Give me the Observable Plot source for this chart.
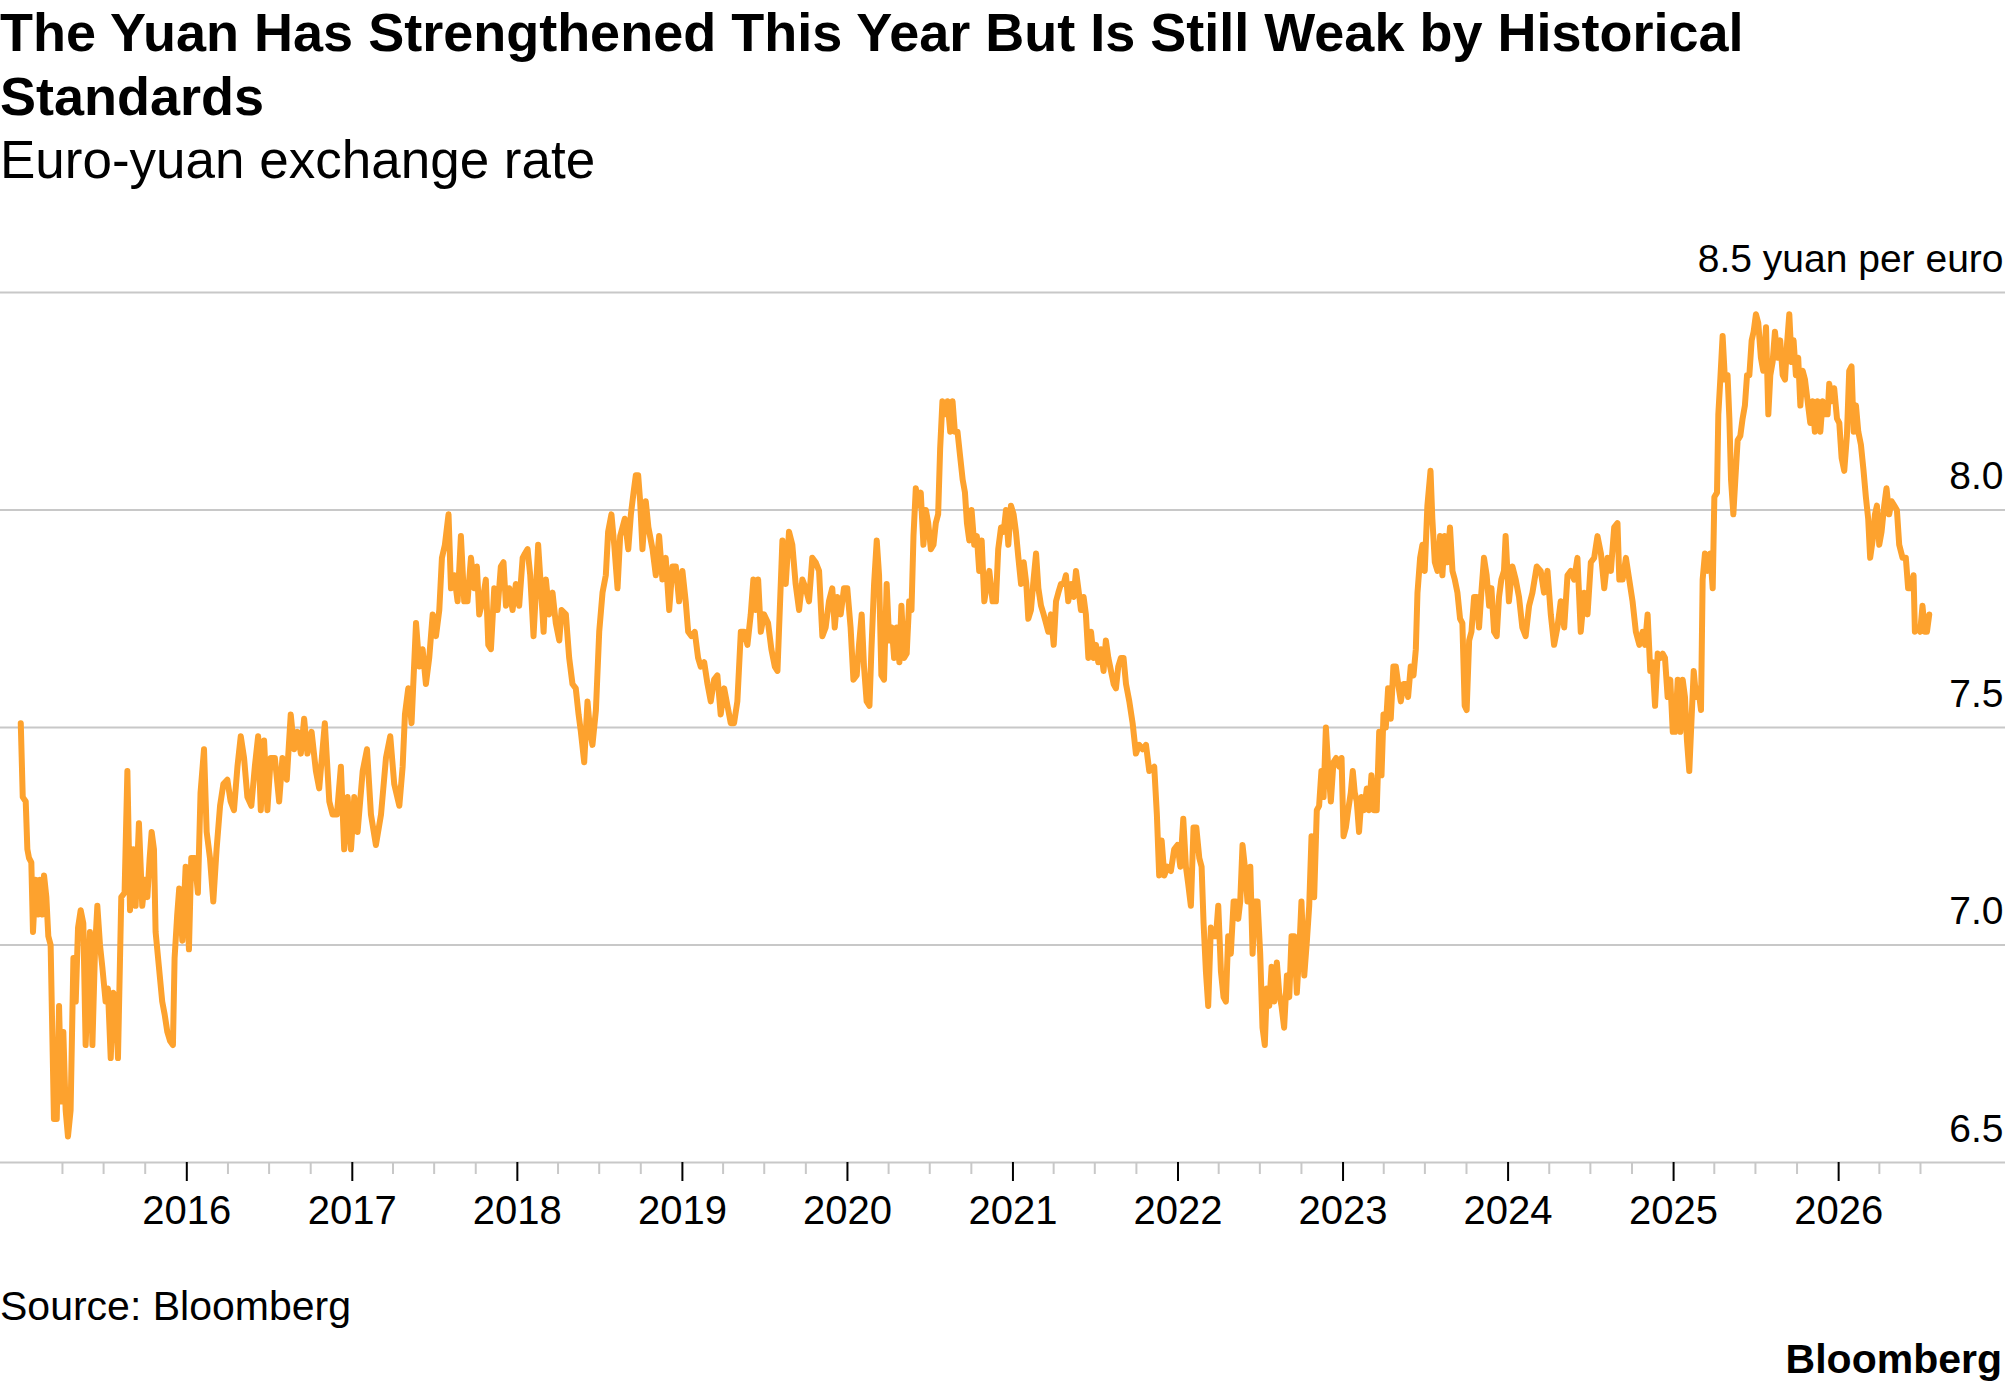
<!DOCTYPE html>
<html>
<head>
<meta charset="utf-8">
<script src="https://cdn.jsdelivr.net/npm/d3@7"></script>
<script src="https://cdn.jsdelivr.net/npm/@observablehq/plot@0.6"></script>
<style>
  html, body { margin: 0; padding: 0; background: #fff; }
  body { width: 2005px; height: 1389px; position: relative; overflow: hidden;
         font-family: "Liberation Sans", Arial, Helvetica, sans-serif; color: #000; }
  #head { position: absolute; left: 0; top: 0px; width: 1880px; }
  #title { font-weight: bold; font-size: 54px; line-height: 64px; margin: 0; }
  #subtitle { font-size: 53px; line-height: 64px; margin: 0; }
  #chart { position: absolute; left: 0; top: 222px; }
  #source { position: absolute; left: 0; top: 1282px; font-size: 41px; line-height: 48px; }
  #logo { position: absolute; right: 3px; top: 1336px; font-size: 41px; line-height: 46px; font-weight: bold; }
</style>
</head>
<body>
<div id="head">
  <div id="title">The Yuan Has Strengthened This Year But Is Still Weak by Historical Standards</div>
  <div id="subtitle">Euro-yuan exchange rate</div>
</div>
<div id="chart"></div>
<div id="source">Source: Bloomberg</div>
<div id="logo">Bloomberg</div>
<script>
const dates = [
2014.994,2015.006,2015.024,2015.034,2015.044,2015.058,2015.068,2015.084,2015.099,2015.111,2015.125,2015.135,2015.149,2015.161,2015.175,2015.195,2015.212,2015.226,2015.240,2015.252,2015.266,2015.280,2015.296,2015.313,2015.327,2015.341,2015.357,2015.373,2015.387,2015.401,2015.413,2015.428,2015.444,2015.458,2015.474,2015.488,2015.508,2015.522,2015.539,2015.555,2015.569,2015.583,2015.603,2015.623,2015.640,2015.656,2015.676,2015.690,2015.710,2015.730,2015.746,2015.761,2015.775,2015.787,2015.801,2015.811,2015.831,2015.851,2015.866,2015.882,2015.898,2015.916,2015.926,2015.942,2015.954,2015.973,2015.993,
2016.013,2016.027,2016.047,2016.067,2016.083,2016.104,2016.120,2016.140,2016.160,2016.180,2016.201,2016.221,2016.245,2016.265,2016.285,2016.306,2016.326,2016.346,2016.366,2016.390,2016.411,2016.431,2016.447,2016.467,2016.487,2016.507,2016.532,2016.558,2016.578,2016.604,2016.628,2016.649,2016.669,2016.689,2016.709,2016.729,2016.754,2016.780,2016.800,2016.834,2016.861,2016.881,2016.907,2016.931,2016.951,2016.972,2016.992,2017.012,
2017.032,2017.063,2017.089,2017.113,2017.143,2017.174,2017.204,2017.230,2017.254,2017.285,2017.305,2017.319,2017.339,2017.359,2017.386,2017.406,2017.426,2017.446,2017.466,2017.487,2017.507,2017.527,2017.543,2017.561,2017.583,2017.598,2017.618,2017.638,2017.658,2017.678,2017.698,2017.719,2017.739,2017.755,2017.769,2017.789,2017.809,2017.824,2017.840,2017.860,2017.880,2017.900,2017.916,2017.931,2017.951,2017.971,2017.991,
2018.011,2018.032,2018.046,2018.062,2018.078,2018.098,2018.112,2018.126,2018.143,2018.159,2018.173,2018.193,2018.213,2018.233,2018.254,2018.268,2018.294,2018.314,2018.334,2018.354,2018.371,2018.385,2018.405,2018.425,2018.441,2018.455,2018.476,2018.496,2018.516,2018.536,2018.550,2018.570,2018.587,2018.607,2018.623,2018.637,2018.651,2018.672,2018.688,2018.704,2018.718,2018.732,2018.744,2018.758,2018.778,2018.794,2018.819,2018.839,2018.859,2018.879,2018.899,2018.920,2018.940,2018.960,2018.980,
2019.000,2019.020,2019.035,2019.055,2019.075,2019.095,2019.111,2019.132,2019.152,2019.172,2019.192,2019.212,2019.232,2019.253,2019.273,2019.293,2019.313,2019.333,2019.354,2019.374,2019.394,2019.414,2019.430,2019.444,2019.459,2019.475,2019.495,2019.519,2019.539,2019.560,2019.576,2019.606,2019.626,2019.646,2019.666,2019.686,2019.707,2019.727,2019.747,2019.767,2019.787,2019.807,2019.828,2019.848,2019.868,2019.888,2019.908,2019.923,2019.939,2019.959,2019.979,2019.999,
2020.019,2020.036,2020.056,2020.070,2020.086,2020.100,2020.116,2020.133,2020.145,2020.161,2020.177,2020.191,2020.205,2020.221,2020.237,2020.252,2020.268,2020.282,2020.298,2020.314,2020.326,2020.342,2020.358,2020.373,2020.387,2020.399,2020.413,2020.427,2020.443,2020.459,2020.474,2020.488,2020.504,2020.520,2020.534,2020.548,2020.560,2020.574,2020.589,2020.605,2020.621,2020.635,2020.649,2020.665,2020.679,2020.696,2020.710,2020.722,2020.736,2020.750,2020.766,2020.782,2020.796,2020.811,2020.827,2020.843,2020.857,2020.877,2020.897,2020.911,2020.928,2020.944,2020.958,2020.972,2020.988,
2021.004,2021.018,2021.033,2021.049,2021.065,2021.081,2021.093,2021.109,2021.125,2021.140,2021.154,2021.170,2021.186,2021.200,2021.214,2021.230,2021.247,2021.261,2021.275,2021.291,2021.307,2021.321,2021.335,2021.352,2021.368,2021.382,2021.396,2021.412,2021.428,2021.442,2021.457,2021.473,2021.489,2021.503,2021.517,2021.533,2021.549,2021.563,2021.578,2021.594,2021.610,2021.624,2021.638,2021.654,2021.670,2021.685,2021.705,2021.725,2021.745,2021.765,2021.785,2021.806,2021.826,2021.856,2021.872,2021.886,2021.901,2021.917,2021.937,2021.957,2021.977,2021.997,
2022.014,2022.032,2022.048,2022.062,2022.078,2022.094,2022.111,2022.129,2022.143,2022.155,2022.169,2022.183,2022.199,2022.215,2022.230,2022.244,2022.260,2022.276,2022.290,2022.304,2022.320,2022.337,2022.351,2022.365,2022.377,2022.391,2022.405,2022.421,2022.438,2022.452,2022.466,2022.482,2022.498,2022.512,2022.526,2022.538,2022.553,2022.567,2022.583,2022.599,2022.613,2022.627,2022.643,2022.660,2022.674,2022.688,2022.704,2022.720,2022.734,2022.748,2022.765,2022.781,2022.795,2022.809,2022.825,2022.841,2022.855,2022.869,2022.882,2022.896,2022.910,2022.926,2022.942,2022.958,2022.976,2022.991,
2023.003,2023.017,2023.031,2023.047,2023.059,2023.071,2023.083,2023.097,2023.112,2023.128,2023.144,2023.158,2023.172,2023.188,2023.204,2023.219,2023.233,2023.245,2023.259,2023.273,2023.289,2023.305,2023.320,2023.334,2023.350,2023.366,2023.380,2023.394,2023.410,2023.427,2023.441,2023.451,2023.467,2023.481,2023.495,2023.511,2023.530,2023.541,2023.556,2023.572,2023.588,2023.602,2023.616,2023.632,2023.648,2023.663,2023.677,2023.693,2023.709,2023.723,2023.737,2023.749,2023.764,2023.778,2023.794,2023.810,2023.824,2023.838,2023.854,2023.870,2023.885,2023.899,2023.915,2023.931,2023.945,2023.959,2023.975,2023.985,
2024.005,2024.026,2024.046,2024.066,2024.086,2024.106,2024.127,2024.147,2024.173,2024.197,2024.217,2024.238,2024.258,2024.278,2024.298,2024.318,2024.339,2024.359,2024.379,2024.399,2024.419,2024.439,2024.460,2024.480,2024.500,2024.520,2024.540,2024.561,2024.581,2024.601,2024.621,2024.641,2024.661,2024.672,2024.692,2024.712,2024.732,2024.752,2024.772,2024.793,2024.813,2024.827,2024.843,2024.859,2024.873,2024.888,2024.904,2024.920,2024.934,2024.948,2024.964,2024.980,2024.995,
2025.009,2025.025,2025.041,2025.055,2025.069,2025.081,2025.095,2025.110,2025.122,2025.136,2025.150,2025.166,2025.176,2025.190,2025.206,2025.222,2025.237,2025.247,2025.263,2025.271,2025.283,2025.297,2025.311,2025.327,2025.338,2025.348,2025.362,2025.374,2025.388,2025.404,2025.418,2025.432,2025.445,2025.459,2025.473,2025.485,2025.499,2025.513,2025.529,2025.543,2025.560,2025.574,2025.586,2025.600,2025.614,2025.630,2025.646,2025.661,2025.675,2025.687,2025.701,2025.715,2025.727,2025.741,2025.755,2025.768,2025.782,2025.796,2025.812,2025.828,2025.842,2025.856,2025.872,2025.889,2025.903,2025.917,2025.933,2025.943,2025.957,2025.973,2025.990,
2026.004,2026.018,2026.034,2026.050,2026.064,2026.078,2026.091,2026.105,2026.119,2026.135,2026.151,2026.165,2026.179,2026.191,2026.206,2026.220,2026.232,2026.246,2026.260,2026.276,2026.290,2026.306,2026.321,2026.337,2026.353,2026.367,2026.387,2026.407,2026.421,2026.437,2026.454,2026.462,2026.478,2026.494,2026.508,2026.522,2026.535,2026.549
];
// Yuan per euro at each date
const rate = [
7.51,7.34,7.33,7.22,7.20,7.19,7.03,7.15,7.07,7.15,7.07,7.16,7.11,7.02,7.00,6.60,6.60,6.86,6.64,6.80,6.62,6.56,6.62,6.97,6.87,7.04,7.08,7.05,6.77,6.91,7.03,6.77,6.99,7.09,7.00,6.95,6.87,6.90,6.74,6.89,6.88,6.74,7.11,7.12,7.40,7.08,7.22,7.09,7.28,7.09,7.15,7.11,7.20,7.26,7.22,7.03,6.95,6.87,6.84,6.80,6.78,6.77,6.97,7.07,7.13,7.01,7.18,
6.99,7.20,7.20,7.12,7.35,7.45,7.26,7.20,7.10,7.22,7.32,7.37,7.38,7.33,7.31,7.41,7.48,7.43,7.34,7.32,7.41,7.48,7.31,7.47,7.31,7.43,7.43,7.33,7.43,7.38,7.53,7.45,7.49,7.44,7.52,7.44,7.49,7.40,7.36,7.51,7.33,7.30,7.30,7.41,7.22,7.34,7.22,7.34,
7.26,7.40,7.45,7.30,7.23,7.30,7.43,7.48,7.37,7.32,7.41,7.53,7.59,7.51,7.74,7.64,7.68,7.60,7.66,7.76,7.71,7.77,7.89,7.92,7.99,7.82,7.85,7.79,7.94,7.79,7.79,7.89,7.82,7.87,7.76,7.79,7.84,7.69,7.68,7.82,7.77,7.87,7.88,7.78,7.82,7.77,7.83,
7.78,7.89,7.90,7.91,7.85,7.71,7.81,7.92,7.82,7.72,7.84,7.76,7.81,7.74,7.70,7.77,7.76,7.66,7.60,7.59,7.53,7.49,7.42,7.56,7.49,7.46,7.54,7.72,7.81,7.85,7.95,7.99,7.92,7.82,7.94,7.96,7.98,7.91,7.99,8.04,8.08,8.08,8.02,7.91,8.02,7.96,7.91,7.85,7.94,7.84,7.89,7.77,7.87,7.87,7.79,
7.86,7.79,7.72,7.71,7.72,7.66,7.64,7.65,7.60,7.56,7.61,7.62,7.53,7.59,7.55,7.51,7.51,7.56,7.72,7.72,7.69,7.76,7.84,7.77,7.84,7.72,7.76,7.74,7.68,7.64,7.63,7.93,7.83,7.95,7.92,7.83,7.77,7.84,7.82,7.79,7.89,7.88,7.86,7.71,7.73,7.79,7.82,7.73,7.80,7.76,7.82,7.82,
7.73,7.61,7.62,7.69,7.76,7.64,7.56,7.55,7.68,7.83,7.93,7.85,7.62,7.61,7.83,7.70,7.73,7.66,7.73,7.65,7.78,7.66,7.67,7.79,7.77,7.94,8.05,8.01,8.04,7.92,8.00,7.97,7.91,7.92,7.97,7.99,8.14,8.25,8.22,8.25,8.18,8.25,8.18,8.18,8.13,8.07,8.04,7.97,7.93,8.00,7.92,7.94,7.86,7.93,7.79,7.83,7.86,7.79,7.79,7.91,7.96,7.95,8.00,7.92,8.01,
7.99,7.95,7.89,7.83,7.88,7.83,7.75,7.77,7.84,7.90,7.82,7.78,7.76,7.74,7.72,7.76,7.69,7.79,7.81,7.83,7.83,7.85,7.79,7.83,7.80,7.86,7.82,7.77,7.80,7.76,7.66,7.72,7.66,7.69,7.65,7.68,7.63,7.70,7.66,7.63,7.60,7.59,7.64,7.66,7.66,7.60,7.56,7.51,7.44,7.46,7.45,7.46,7.40,7.41,7.30,7.16,7.24,7.16,7.18,7.17,7.22,7.23,
7.18,7.29,7.18,7.14,7.09,7.27,7.27,7.20,7.18,7.05,6.94,6.86,7.04,7.02,7.02,7.09,6.94,6.88,6.87,7.02,6.98,7.10,7.10,7.06,7.10,7.23,7.18,7.10,7.18,6.98,7.10,7.10,6.98,6.81,6.77,6.90,6.86,6.95,6.87,6.96,6.89,6.86,6.81,6.93,6.88,7.02,7.02,6.89,6.98,7.10,6.93,7.01,7.09,7.25,7.11,7.31,7.32,7.40,7.34,7.50,7.41,7.33,7.42,7.43,7.41,7.43,
7.25,7.27,7.31,7.35,7.40,7.35,7.33,7.26,7.34,7.31,7.36,7.31,7.39,7.31,7.31,7.49,7.39,7.53,7.50,7.59,7.52,7.64,7.64,7.60,7.56,7.60,7.60,7.57,7.64,7.62,7.68,7.81,7.89,7.92,7.86,8.01,8.09,7.98,7.88,7.86,7.94,7.85,7.94,7.88,7.96,7.86,7.84,7.81,7.75,7.74,7.55,7.54,7.70,7.72,7.80,7.80,7.73,7.81,7.89,7.85,7.78,7.82,7.72,7.71,7.80,7.84,7.86,7.94,
7.79,7.87,7.84,7.80,7.73,7.71,7.78,7.81,7.87,7.86,7.81,7.86,7.76,7.69,7.73,7.79,7.73,7.85,7.86,7.84,7.89,7.72,7.81,7.76,7.88,7.89,7.94,7.90,7.82,7.89,7.86,7.96,7.97,7.84,7.84,7.89,7.84,7.79,7.72,7.69,7.72,7.69,7.76,7.63,7.65,7.55,7.67,7.66,7.67,7.66,7.57,7.61,7.49,
7.49,7.61,7.49,7.61,7.57,7.47,7.40,7.53,7.63,7.57,7.59,7.54,7.84,7.90,7.86,7.90,7.82,8.03,8.04,8.22,8.30,8.40,8.30,8.31,8.21,8.07,7.99,8.07,8.16,8.17,8.21,8.24,8.31,8.31,8.39,8.41,8.45,8.43,8.35,8.32,8.42,8.22,8.31,8.34,8.41,8.35,8.39,8.31,8.30,8.38,8.45,8.34,8.39,8.31,8.35,8.24,8.32,8.30,8.25,8.20,8.25,8.18,8.25,8.18,8.25,8.22,8.22,8.29,8.25,8.28,8.21,
8.20,8.12,8.09,8.17,8.32,8.33,8.18,8.24,8.18,8.15,8.09,8.03,7.98,7.89,7.93,7.99,8.01,7.92,7.95,8.01,8.05,7.99,8.02,8.01,8.00,7.92,7.89,7.89,7.82,7.82,7.85,7.72,7.73,7.72,7.78,7.72,7.72,7.76
];

const yTicks = [6.5, 7.0, 7.5, 8.0, 8.5];
const yearTicks = [2016, 2017, 2018, 2019, 2020, 2021, 2022, 2023, 2024, 2025, 2026];
const xStart = "2014-11-15", xEnd = "2027-01-05";

function fromDecimal(t) {
  const y = Math.floor(t);
  const a = Date.UTC(y, 0, 1), b = Date.UTC(y + 1, 0, 1);
  return new Date(a + (t - y) * (b - a));
}
const series = dates.map((t, i) => ({date: fromDecimal(t), value: rate[i]}));
const majorTicks = yearTicks.map(y => new Date(Date.UTC(y, 0, 1)));
const minorTicks = d3.utcMonth.range(new Date(Date.UTC(2015, 3, 1)), new Date(Date.UTC(2026, 7, 1)), 3)
  .filter(d => d.getUTCMonth() !== 0);

const FONT = '"Liberation Sans", Arial, Helvetica, sans-serif';
const chart = Plot.plot({
  width: 2005,
  height: 1020,
  marginLeft: 0,
  marginRight: 0,
  marginTop: 70,
  marginBottom: 80,
  x: {type: "utc", domain: [new Date(xStart), new Date(xEnd)]},
  y: {domain: [6.5, 8.5]},
  style: {fontFamily: FONT, background: "#fff", color: "#000", overflow: "visible", maxWidth: "none"},
  marks: [
    Plot.ruleY(yTicks, {stroke: "#c8c8c8", strokeWidth: 2}),
    Plot.axisY(yTicks, {
      anchor: "right", tickSize: 0, tickPadding: 0, textAnchor: "end", lineAnchor: "bottom",
      dx: -2, dy: -21, fontSize: 39, label: null,
      tickFormat: d => d === 8.5 ? "8.5 yuan per euro" : d.toFixed(1)
    }),
    Plot.axisX(minorTicks, {tickSize: 12, stroke: "#c8c8c8", strokeWidth: 2, tickFormat: () => "", label: null}),
    Plot.axisX(majorTicks, {
      tickSize: 19, tickPadding: 14, stroke: "#000", strokeWidth: 2, fontSize: 40, label: null,
      tickFormat: d => String(d.getUTCFullYear())
    }),
    Plot.line(series, {x: "date", y: "value", stroke: "#fda22e", strokeWidth: 6, strokeLinejoin: "round", strokeLinecap: "round"})
  ]
});
document.getElementById("chart").appendChild(chart);
</script>
</body>
</html>
